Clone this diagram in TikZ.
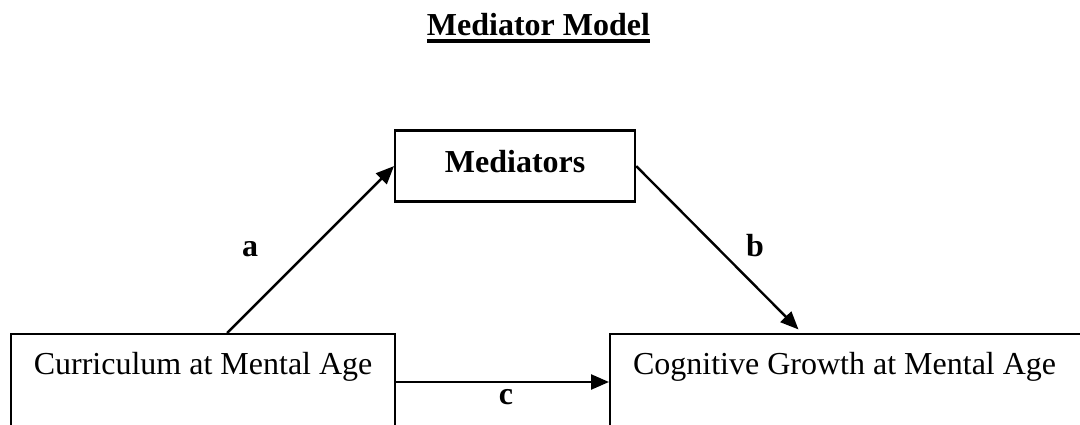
\documentclass[tikz,border=0pt]{standalone}
\usepackage{fontspec}
\setmainfont{Liberation Serif}
\usetikzlibrary{arrows.meta}
\tikzset{
  box/.style={draw, line width=2.2pt, rectangle, font=\fontsize{32}{38}\selectfont},
  arr/.style={line width=2.4pt, -{Triangle[length=18pt,width=15pt]}},
  lab/.style={font=\fontsize{32}{38}\selectfont\bfseries, inner sep=0pt}
}
\begin{document}
\begin{tikzpicture}[x=1pt, y=-1pt]
\useasboundingbox (0,0) rectangle (1080,425);
\clip (0,0) rectangle (1080,425);
\node[lab, anchor=base] (title) at (538.5,36) {Mediator Model};
\draw[line width=4pt] ([yshift=-5pt]title.base west) -- ([yshift=-5pt]title.base east);
\node[box, font=\fontsize{32}{38}\selectfont\bfseries, anchor=north west, minimum width=240pt, minimum height=71pt,
      text height=22pt, text depth=9pt] (med) at (394,129.5) {Mediators};
\node[box, anchor=north west, minimum width=384pt, inner ysep=10pt, text height=30pt, text depth=110pt] (cur) at (10,333) {Curriculum at Mental Age};
\node[box, anchor=north west, inner xsep=23pt, inner ysep=10pt, text height=30pt, text depth=110pt] (cog) at (609,333) {\makebox[480pt][l]{Cognitive Growth at Mental Age}};
\draw[arr] ([xshift=24pt]cur.north) -- (med.west);
\draw[arr, shorten >=5pt] (med.east) -- ([xshift=193pt]cog.north west);
\draw[arr] ([yshift=-49pt]cur.north east) -- ([yshift=-49pt]cog.north west);
\node[lab] (la) at (250,249) {a};
\node[lab] (lb) at (755,246) {b};
\node[lab] (lc) at (506,397) {c};
\end{tikzpicture}
\end{document}
